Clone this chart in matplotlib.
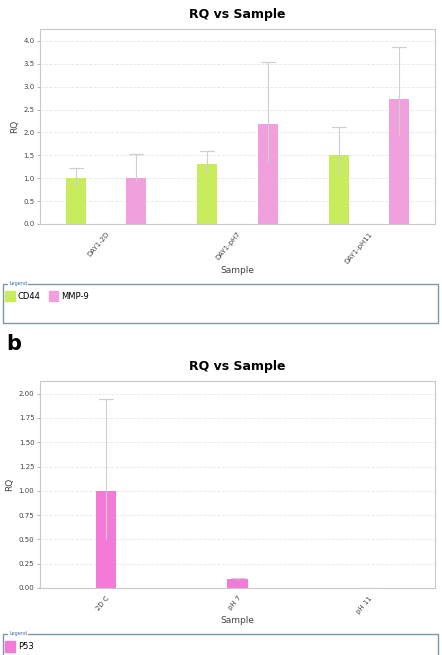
import matplotlib.pyplot as plt
from matplotlib.patches import Rectangle, Patch
import numpy as np

# panel a
samples_a = ['DAY1-2D', 'DAY1-pH7', 'DAY1-pH11']
cd44 = [1.0, 1.32, 1.50]
cd44_lo = [0.81, 1.09, 1.07]
cd44_hi = [1.23, 1.59, 2.12]
mmp9 = [1.0, 2.18, 2.74]
mmp9_lo = [0.95, 1.33, 1.94]
mmp9_hi = [1.53, 3.53, 3.86]
yticks_a = [0.0, 0.5, 1.0, 1.5, 2.0, 2.5, 3.0, 3.5, 4.0]

# panel b
samples_b = ['2D C', 'pH 7', 'pH 11']
p53 = [1.0, 0.09, 0.003]
p53_lo = [0.5, 0.08, 0.002]
p53_hi = [1.94, 0.10, 0.004]
yticks_b = [0.0, 0.25, 0.5, 0.75, 1.0, 1.25, 1.5, 1.75, 2.0]

green = '#c9ec5c'
pink = '#f0a0dc'
p53_col = '#f47ad8'
err_col = '#cfcfcf'
W, H = 442, 655

fig = plt.figure(figsize=(W / 100, H / 100), dpi=100)


def px_axes(left, top, right, bottom):
    return fig.add_axes([left / W, 1 - bottom / H, (right - left) / W, (bottom - top) / H])


def style(ax, yticks, fmt, ymax, labels):
    ax.set_xlim(-0.5, 2.5)
    ax.set_ylim(0, ymax)
    ax.set_yticks(yticks)
    ax.set_yticklabels([fmt.format(v) for v in yticks], fontsize=5, color='#444444')
    ax.set_xticks(range(3))
    ax.set_xticklabels(labels, rotation=50, ha='right', rotation_mode='anchor',
                       fontsize=5, color='#444444')
    ax.tick_params(axis='y', length=2, color='#bbbbbb', pad=2)
    ax.tick_params(axis='x', length=0, pad=5)
    for s in ax.spines.values():
        s.set_color('#c8c8c8')
        s.set_linewidth(0.8)
    ax.yaxis.grid(True, color='#e6e6e6', linestyle='--', linewidth=0.6)
    ax.set_axisbelow(True)
    ax.set_title('RQ vs Sample', fontsize=9, fontweight='bold', pad=8)
    ax.set_xlabel('Sample', fontsize=6.5, color='#444444', labelpad=1)
    ax.set_ylabel('RQ', fontsize=6.5, color='#444444', labelpad=3)


def errbars(ax, xs, vals, lo, hi):
    ax.errorbar(xs, vals, yerr=[np.subtract(vals, lo), np.zeros(len(vals))],
                fmt='none', ecolor=err_col, elinewidth=0.8, capsize=0, zorder=3)
    ax.errorbar(xs, hi, yerr=[np.subtract(hi, vals), np.zeros(len(vals))],
                fmt='none', ecolor=err_col, elinewidth=0.8, capsize=0, zorder=3)
    ax.errorbar(xs, hi, yerr=[np.zeros(len(vals)), np.zeros(len(vals))],
                fmt='none', ecolor=err_col, elinewidth=0.8, capsize=5, capthick=0.8, zorder=3)


def legend_box(top, bottom, handles):
    fig.add_artist(Rectangle((3 / W, 1 - bottom / H), 435 / W, (bottom - top) / H,
                             transform=fig.transFigure, fill=False,
                             edgecolor='#7f95a8', linewidth=1.0))
    fig.text(9 / W, 1 - top / H, 'Legend', fontsize=3.5, color='#3a6ea5',
             va='center', ha='left',
             bbox=dict(facecolor='white', edgecolor='none', pad=0.5))
    fig.legend(handles=handles, loc='upper left', bbox_to_anchor=(2 / W, 1 - (top + 4) / H),
               ncol=len(handles), frameon=False, fontsize=6, handlelength=1.1,
               handleheight=1.5, handletextpad=0.4, columnspacing=1.0, borderaxespad=0)


x = np.arange(3)
w = 0.152
off = 0.228

ax1 = px_axes(40, 29, 435, 224)
style(ax1, yticks_a, '{:.1f}', 4.26, samples_a)
ax1.bar(x - off, cd44, w, color=green, zorder=2)
ax1.bar(x + off, mmp9, w, color=pink, zorder=2)
errbars(ax1, x - off, cd44, cd44_lo, cd44_hi)
errbars(ax1, x + off, mmp9, mmp9_lo, mmp9_hi)
legend_box(284, 323, [Patch(color=green, label='CD44'), Patch(color=pink, label='MMP-9')])

fig.text(6 / W, 1 - 344 / H, 'b', fontsize=15, fontweight='bold', va='center', ha='left')

ax2 = px_axes(40, 381, 435, 588)
style(ax2, yticks_b, '{:.2f}', 2.13, samples_b)
ax2.bar(x, p53, w, color=p53_col, zorder=2)
errbars(ax2, x, p53, p53_lo, p53_hi)
legend_box(634, 670, [Patch(color=p53_col, label='P53')])

fig.savefig('out.png', dpi=100)
